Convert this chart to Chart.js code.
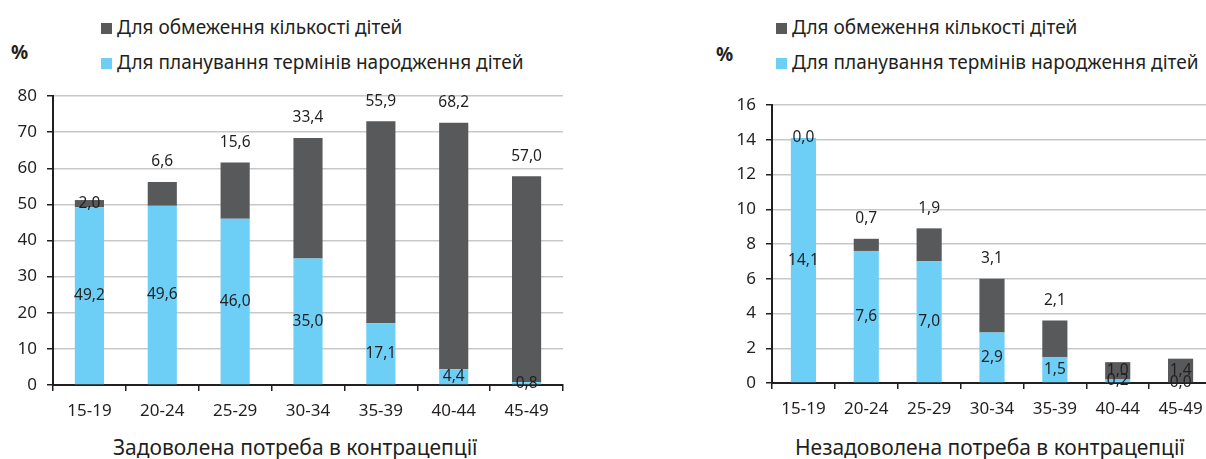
<!DOCTYPE html>
<html>
<head>
<meta charset="utf-8">
<script src="https://cdn.jsdelivr.net/npm/chart.js@4.4.1/dist/chart.umd.min.js"></script>
<style>
  body { margin: 0; width: 1206px; height: 459px; overflow: hidden; background: #fff;
         position: relative; font-family: "Noto Sans", sans-serif; color: #231f20; }
  .abs { position: absolute; white-space: nowrap; }
  .pct { font-weight: bold; font-size: 19px; line-height: 22px; }
  .leg { font-size: 19px; line-height: 22px; }
  .leg i { display: inline-block; width: 11px; height: 11px; margin-right: 5px; vertical-align: 0px; }
  .cap { font-size: 21px; line-height: 26px; }
</style>
</head>
<body>
<div class="abs pct" style="left:11px;top:41px">%</div>
<div class="abs leg" style="left:101px;top:16px"><i style="background:#58595b"></i><span id="lgA1"></span></div>
<div class="abs leg" style="left:101px;top:51px"><i style="background:#6dcff6"></i><span id="lgA2"></span></div>
<div class="abs pct" style="left:716px;top:43px">%</div>
<div class="abs leg" style="left:776px;top:16px"><i style="background:#58595b"></i><span id="lgB1"></span></div>
<div class="abs leg" style="left:776px;top:51px"><i style="background:#6dcff6"></i><span id="lgB2"></span></div>
<div class="abs cap" id="capA" style="left:113px;top:434px"></div>
<div class="abs cap" id="capB" style="left:795px;top:434px"></div>

<div class="abs" style="left:0;top:0;width:600px;height:430px"><canvas id="met"></canvas></div>
<div class="abs" style="left:700px;top:0;width:540px;height:430px"><canvas id="unmet"></canvas></div>

<script>
// age groups on the x axis
const ageGroups = ['15-19', '20-24', '25-29', '30-34', '35-39', '40-44', '45-49'];
const seriesNames = ['Для обмеження кількості дітей', 'Для планування термінів народження дітей'];
const captions = ['Задоволена потреба в контрацепції', 'Незадоволена потреба в контрацепції'];

// met need (left panel), %
const metLimiting = [2.0, 6.6, 15.6, 33.4, 55.9, 68.2, 57.0];
const metSpacing  = [49.2, 49.6, 46.0, 35.0, 17.1, 4.4, 0.8];
const metTicks = { max: 80, step: 10 };

// unmet need (right panel), %
const unmetLimiting = [0.0, 0.7, 1.9, 3.1, 2.1, 1.0, 1.4];
const unmetSpacing  = [14.1, 7.6, 7.0, 2.9, 1.5, 0.2, 0.0];
const unmetTicks = { max: 16, step: 2 };

const FONT = '"Noto Sans", sans-serif';
const INK = '#231f20';
const DARK = '#58595b';
const BLUE = '#6dcff6';

document.getElementById('lgA1').textContent = seriesNames[0];
document.getElementById('lgA2').textContent = seriesNames[1];
document.getElementById('lgB1').textContent = seriesNames[0];
document.getElementById('lgB2').textContent = seriesNames[1];
document.getElementById('capA').textContent = captions[0];
document.getElementById('capB').textContent = captions[1];

const fmt = (v) => v.toFixed(1).replace('.', ',');

// value labels: blue ones centred in their segment, grey ones above the bar
// unless the chart lists that bar in options.plugins.barLabels.inside
const barLabels = {
  id: 'barLabels',
  afterDatasetsDraw(chart, args, opts) {
    const ctx = chart.ctx;
    ctx.save();
    ctx.font = '15.5px ' + FONT;
    ctx.fillStyle = INK;
    ctx.textAlign = 'center';
    ctx.textBaseline = 'middle';
    chart.data.datasets.forEach((ds, di) => {
      chart.getDatasetMeta(di).data.forEach((bar, i) => {
        const v = ds.data[i];
        let y = (bar.y + bar.base) / 2;
        if (di === 1 && !opts.inside.includes(i)) y = bar.y - opts.above;
        ctx.fillText(fmt(v), bar.x, y);
      });
    });
    ctx.restore();
  }
};

function makeChart(id, spacing, limiting, ticks, axisWidth, pad, inside) {
  return new Chart(document.getElementById(id), {
    type: 'bar',
    data: {
      labels: ageGroups,
      datasets: [
        { label: seriesNames[1], data: spacing, backgroundColor: BLUE,
          categoryPercentage: 1, barPercentage: 0.4 },
        { label: seriesNames[0], data: limiting, backgroundColor: DARK,
          categoryPercentage: 1, barPercentage: 0.4 },
      ],
    },
    options: {
      responsive: true,
      maintainAspectRatio: false,
      animation: false,
      layout: { padding: pad },
      plugins: {
        legend: { display: false },
        tooltip: { enabled: false },
        barLabels: { inside: inside, above: 20 },
      },
      scales: {
        x: {
          stacked: true,
          grid: { drawOnChartArea: false, color: INK, tickLength: 6, lineWidth: 1.5 },
          border: { color: INK, width: 2 },
          ticks: { color: INK, font: { family: FONT, size: 17 }, padding: 10, maxRotation: 0 },
          afterFit: (s) => { s.height = 40; },
        },
        y: {
          stacked: true,
          min: 0,
          max: ticks.max,
          grid: { color: '#c8c8c8', lineWidth: 1.5, tickLength: 6, tickColor: INK },
          border: { color: INK, width: 2 },
          ticks: { stepSize: ticks.step, color: INK, font: { family: FONT, size: 17 }, padding: 10 },
          afterFit: (s) => { s.width = axisWidth; },
        },
      },
    },
    plugins: [barLabels],
  });
}

makeChart('met', metSpacing, metLimiting, metTicks, 53,
  { top: 96, right: 37, bottom: 5, left: 0 }, [0]);
makeChart('unmet', unmetSpacing, unmetLimiting, unmetTicks, 72,
  { top: 105, right: 28, bottom: 7, left: 0 }, [0, 5, 6]);
</script>
</body>
</html>
